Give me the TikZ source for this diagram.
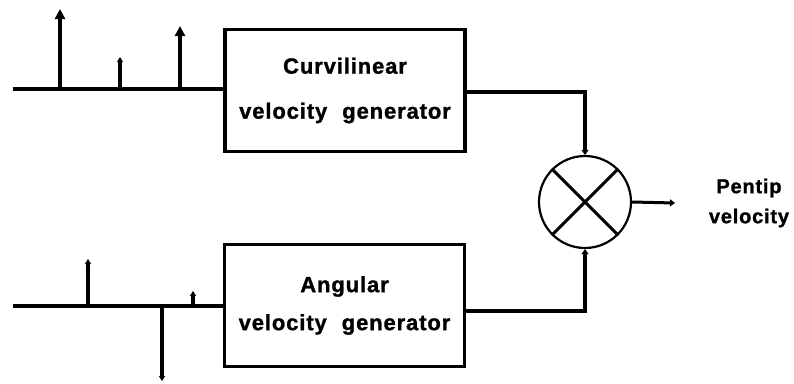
\documentclass[tikz,border=0pt]{standalone}
\usepackage{fontspec}
\setmainfont{Liberation Sans}[BoldFeatures={FakeBold=1.2,LetterSpace=4}]
\usetikzlibrary{arrows.meta}
\begin{document}
\begin{tikzpicture}[x=1pt,y=-1pt,
  wire/.style={line width=3.2pt},
  blk/.style={draw,line width=3.2pt,minimum width=240pt,minimum height=122pt,inner sep=0pt,align=center,font=\bfseries\fontsize{22}{45}\selectfont},
  imp/.style={line width=3.2pt,-{Triangle[width=10pt,length=10pt]}},
  simp/.style={line width=3.2pt,-{Triangle[width=6pt,length=5pt]}},
  lbl/.style={align=center,font=\bfseries\fontsize{20}{30}\selectfont}]
\useasboundingbox (0,0) rectangle (794,383);
% blocks
\node[blk] (cv) at (345,90.5) {Curvilinear\\velocity\hspace{8pt} generator};
\node[blk,font=\bfseries\fontsize{22}{38}\selectfont] (av) at (344.5,305.5) {Angular\\velocity\hspace{8pt} generator};
% multiplier
\node[draw,circle,line width=2.2pt,minimum size=92pt,inner sep=0pt] (mx) at (585,202) {};
\draw[line width=3pt] (mx.45) -- (mx.225);
\draw[line width=3pt] (mx.135) -- (mx.315);
% inputs
\coordinate (ti) at (13,89);
\coordinate (bi) at (13,306);
\draw[wire] (ti) -- (cv.west |- ti);
\draw[wire] (bi) -- (av.west |- bi);
% top impulses
\coordinate (t1) at (60,89); \coordinate (t1e) at (60,9);
\coordinate (t2) at (120,89); \coordinate (t2e) at (120,57);
\coordinate (t3) at (180,89); \coordinate (t3e) at (180,26);
\draw[imp] (t1) -- (t1e);
\draw[simp] (t2) -- (t2e);
\draw[imp] (t3) -- (t3e);
% bottom impulses
\coordinate (b1) at (88,306); \coordinate (b1e) at (88,259);
\coordinate (b2) at (193,306); \coordinate (b2e) at (193,291);
\coordinate (b3) at (162,306); \coordinate (b3e) at (162,381);
\draw[simp] (b1) -- (b1e);
\draw[simp] (b2) -- (b2e);
\draw[simp] (b3) -- (b3e);
% outputs to multiplier
\coordinate (co) at (cv.east |- 0,92);
\coordinate (ao) at (av.east |- 0,311);
\draw[wire,-{Triangle[width=7pt,length=5pt]}] (co) -| (mx.north);
\draw[wire,-{Triangle[width=7pt,length=5pt]}] (ao) -| (mx.south);
\coordinate (oe) at (675,203);
\draw[line width=3pt,-{Triangle[width=7pt,length=5pt]}] (mx.east) -- (oe);
\node[lbl] (pv) at (749,203) {Pentip\\velocity};
\end{tikzpicture}
\end{document}
